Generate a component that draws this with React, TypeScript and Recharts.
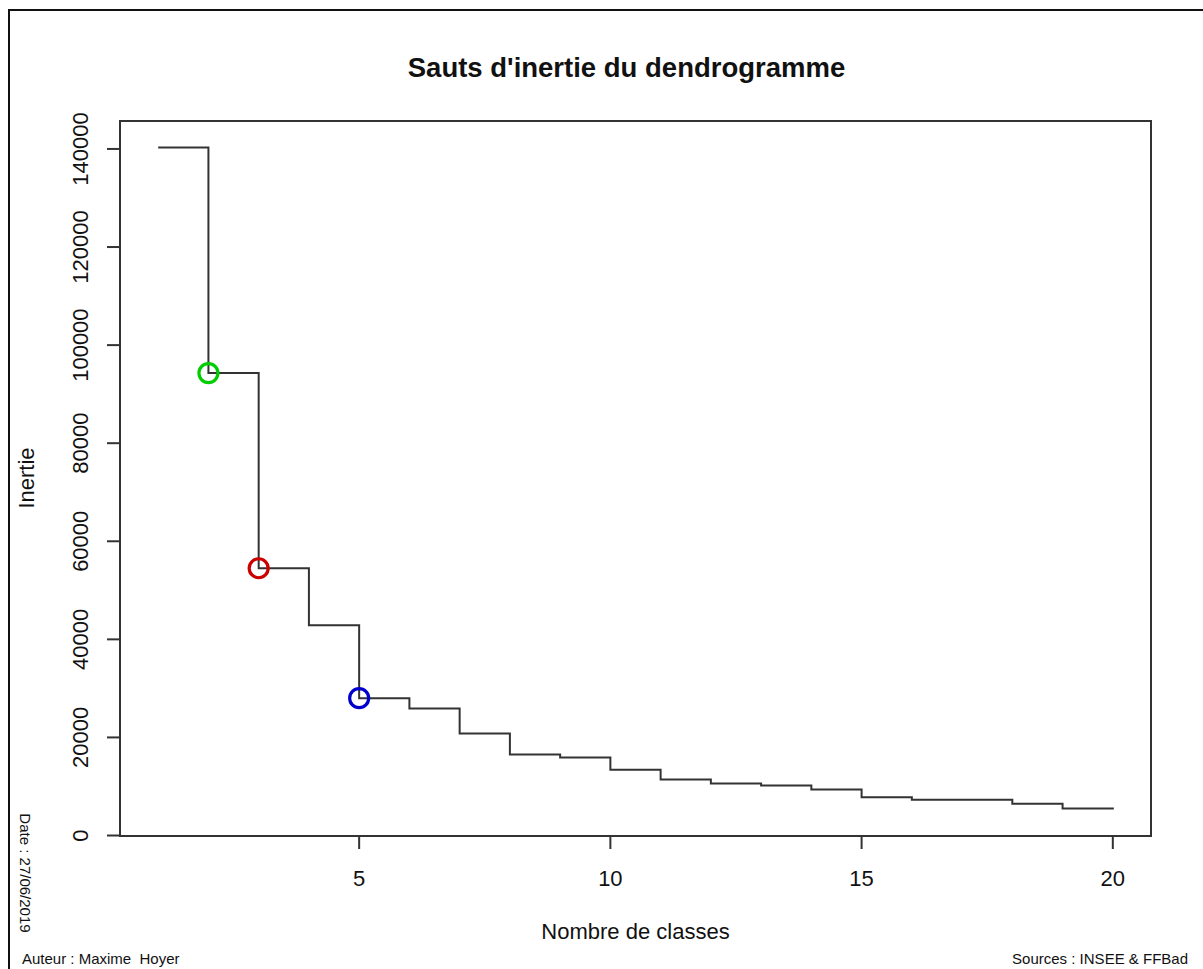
import { ComposedChart, Line, Scatter, XAxis, YAxis, ReferenceArea } from 'recharts';

// nombre de classes / inertie
const classes = [1, 2, 3, 4, 5, 6, 7, 8, 9, 10, 11, 12, 13, 14, 15, 16, 17, 18, 19, 20];
const inertie = [
  140300, 94300, 54500, 42900, 28000, 25900, 20800, 16500, 15900, 13400,
  11400, 10600, 10200, 9400, 7800, 7300, 7300, 6500, 5500, 5300
];

const highlightClasses = [2, 3, 5];
const highlightColors = ['#00cd00', '#cd0000', '#0000cd'];

const xTicks = [5, 10, 15, 20];
const yTicks = [0, 20000, 40000, 60000, 80000, 100000, 120000, 140000];

const X_DOMAIN: [number, number] = [0.24, 20.76];
const Y_DOMAIN: [number, number] = [-100, 145700];

const FONT = '"Liberation Sans", Arial, sans-serif';
const INK = '#111';

const stepData = classes.map((c, i) => ({ classes: c, inertie: inertie[i] }));
const pointData = highlightClasses.map((c, i) => ({
  classes: c,
  inertie: inertie[classes.indexOf(c)],
  color: highlightColors[i]
}));

// plot box: left 120, top 121, right edge 1151, bottom 836
const X_AXIS_H = 40;
const Y_AXIS_W = 60;

function XTick({ x, y, payload }: any) {
  // y arrives as axis + tickSize + tickMargin
  return (
    <text x={x} y={y + 35} textAnchor="middle" fontSize={22} fontFamily={FONT} fill={INK}>
      {payload.value}
    </text>
  );
}

function YTick({ x, y, payload }: any) {
  const bx = x - 17;
  return (
    <text
      x={bx}
      y={y}
      textAnchor="middle"
      fontSize={22}
      fontFamily={FONT}
      fill={INK}
      transform={`rotate(-90, ${bx}, ${y})`}
    >
      {payload.value}
    </text>
  );
}

function RingDot({ cx, cy, payload }: any) {
  return <circle cx={cx} cy={cy} r={9.5} fill="none" stroke={payload.color} strokeWidth={3.2} />;
}

export default function App() {
  return (
    <div style={{ position: 'absolute', left: 0, top: 0, width: 1203, height: 969, overflow: 'hidden', background: '#fff' }}>
      <div
        style={{
          position: 'absolute',
          left: 8,
          top: 9,
          width: 1210,
          height: 980,
          border: '2px solid #111',
          boxSizing: 'border-box'
        }}
      />
      <ComposedChart
        width={1203}
        height={969}
        data={stepData}
        margin={{ top: 121, right: 52, left: 120 - Y_AXIS_W, bottom: 133 - X_AXIS_H }}
        style={{ position: 'absolute', left: 0, top: 0 }}
      >
        <XAxis
          type="number"
          dataKey="classes"
          domain={X_DOMAIN}
          ticks={xTicks}
          allowDataOverflow
          height={X_AXIS_H}
          axisLine={false}
          tickSize={13}
          tickMargin={2}
          tickLine={{ stroke: '#333', strokeWidth: 2 }}
          tick={XTick}
        />
        <YAxis
          type="number"
          domain={Y_DOMAIN}
          ticks={yTicks}
          allowDataOverflow
          width={Y_AXIS_W}
          axisLine={false}
          tickSize={13}
          tickMargin={2}
          tickLine={{ stroke: '#333', strokeWidth: 2 }}
          tick={YTick}
        />
        <ReferenceArea
          x1={X_DOMAIN[0]}
          x2={X_DOMAIN[1]}
          y1={Y_DOMAIN[0]}
          y2={Y_DOMAIN[1]}
          fill="none"
          stroke="#333"
          strokeWidth={2}
          ifOverflow="visible"
        />
        <Line
          type="stepAfter"
          dataKey="inertie"
          stroke="#333"
          strokeWidth={2}
          dot={false}
          activeDot={false}
          isAnimationActive={false}
        />
        <Scatter data={pointData} dataKey="inertie" shape={RingDot} isAnimationActive={false} />
      </ComposedChart>

      <div style={{ position: 'absolute', left: 0, top: 0, width: 1203, height: 969, pointerEvents: 'none', fontFamily: FONT, color: INK }}>
        <div style={{ position: 'absolute', left: 111, width: 1031, top: 53, textAlign: 'center', fontSize: 27.5, fontWeight: 'bold', lineHeight: '30px' }}>
          Sauts d'inertie du dendrogramme
        </div>
        <div style={{ position: 'absolute', left: 120, width: 1031, top: 919, textAlign: 'center', fontSize: 22, lineHeight: '26px' }}>
          Nombre de classes
        </div>
        <div
          style={{
            position: 'absolute',
            left: 27,
            top: 478,
            fontSize: 22,
            lineHeight: '26px',
            whiteSpace: 'nowrap',
            transform: 'translate(-50%, -50%) rotate(-90deg)'
          }}
        >
          Inertie
        </div>
        <div
          style={{
            position: 'absolute',
            left: 25,
            top: 873,
            fontSize: 15,
            lineHeight: '18px',
            whiteSpace: 'nowrap',
            transform: 'translate(-50%, -50%) rotate(90deg)'
          }}
        >
          Date : 27/06/2019
        </div>
        <div style={{ position: 'absolute', left: 22, top: 950, fontSize: 15, lineHeight: '18px', whiteSpace: 'pre' }}>
          Auteur : Maxime  Hoyer
        </div>
        <div style={{ position: 'absolute', right: 15, top: 950, fontSize: 15, lineHeight: '18px', whiteSpace: 'pre' }}>
          Sources : INSEE &amp; FFBad
        </div>
      </div>
    </div>
  );
}
